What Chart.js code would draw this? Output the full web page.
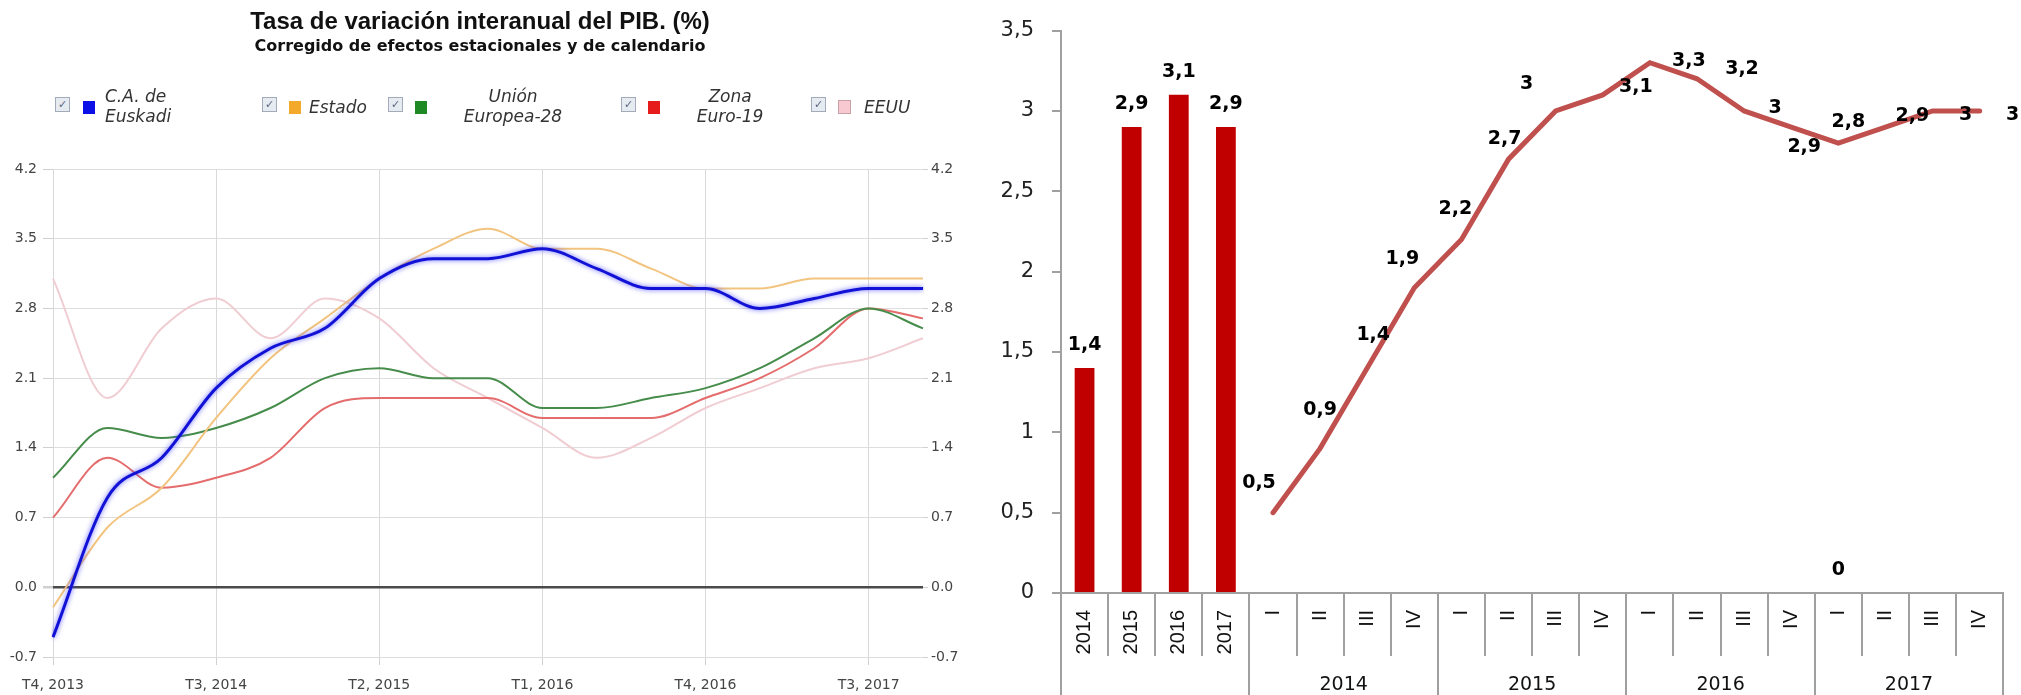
<!DOCTYPE html>
<html>
<head>
<meta charset="utf-8">
<script src="https://cdn.jsdelivr.net/npm/chart.js@4.4.1/dist/chart.umd.min.js"></script>
<style>
  body { margin: 0; background: #fff; width: 2021px; height: 695px; overflow: hidden; position: relative; }
  #izq { position: absolute; left: 0; top: 0; width: 960px; height: 695px; }
  #der { position: absolute; left: 960px; top: 0; width: 1061px; height: 695px; }
  .caja { position: absolute; width: 13px; height: 13px; border: 1px solid #a3abbb; background: #e6eaf1;
          font: 11px "DejaVu Sans"; color: #5b6680; text-align: center; line-height: 13px; }
  .cuadro { position: absolute; width: 12px; height: 13px; }
  .txt { position: absolute; font: italic 17px "DejaVu Sans"; color: #333; line-height: 20px; }
</style>
</head>
<body>
<div id="izq"><canvas id="grafIzq"></canvas></div>
<div id="der"><canvas id="grafDer"></canvas></div>

<!-- leyenda del grafico de la izquierda -->
<span class="caja" style="left:55px;top:97px">✓</span>
<span class="cuadro" style="left:83px;top:101px;background:#0a10e6"></span>
<span class="txt" style="left:105px;top:86px">C.A. de<br>Euskadi</span>

<span class="caja" style="left:262px;top:97px">✓</span>
<span class="cuadro" style="left:289px;top:101px;background:#f2a92c"></span>
<span class="txt" style="left:309px;top:97px">Estado</span>

<span class="caja" style="left:388px;top:97px">✓</span>
<span class="cuadro" style="left:415px;top:101px;background:#1f8a24"></span>
<span class="txt" style="left:456px;top:86px;width:114px;text-align:center">Unión<br>Europea-28</span>

<span class="caja" style="left:621px;top:97px">✓</span>
<span class="cuadro" style="left:648px;top:101px;background:#e61b1b"></span>
<span class="txt" style="left:680px;top:86px;width:100px;text-align:center">Zona<br>Euro-19</span>

<span class="caja" style="left:811px;top:97px">✓</span>
<span class="cuadro" style="left:838px;top:100px;background:#f9c9d1;border:1px solid #c9a0a6;width:11px;height:12px"></span>
<span class="txt" style="left:864px;top:97px">EEUU</span>

<script>
// --- datos grafico izquierda (tasa interanual, %)
const trimestres = ['T4, 2013', 'T1, 2014', 'T2, 2014', 'T3, 2014', 'T4, 2014', 'T1, 2015', 'T2, 2015',
  'T3, 2015', 'T4, 2015', 'T1, 2016', 'T2, 2016', 'T3, 2016', 'T4, 2016', 'T1, 2017', 'T2, 2017',
  'T3, 2017', 'T4, 2017'];
const euskadi = [-0.5, 0.9, 1.3, 2.0, 2.4, 2.6, 3.1, 3.3, 3.3, 3.4, 3.2, 3.0, 3.0, 2.8, 2.9, 3.0, 3.0];
const estado = [-0.2, 0.6, 1.0, 1.7, 2.3, 2.7, 3.1, 3.4, 3.6, 3.4, 3.4, 3.2, 3.0, 3.0, 3.1, 3.1, 3.1];
const ue28 = [1.1, 1.6, 1.5, 1.6, 1.8, 2.1, 2.2, 2.1, 2.1, 1.8, 1.8, 1.9, 2.0, 2.2, 2.5, 2.8, 2.6];
const euro19 = [0.7, 1.3, 1.0, 1.1, 1.3, 1.8, 1.9, 1.9, 1.9, 1.7, 1.7, 1.7, 1.9, 2.1, 2.4, 2.8, 2.7];
const eeuu = [3.1, 1.9, 2.6, 2.9, 2.5, 2.9, 2.7, 2.2, 1.9, 1.6, 1.3, 1.5, 1.8, 2.0, 2.2, 2.3, 2.5];

// --- datos grafico derecha
const categorias = ['2014', '2015', '2016', '2017',
  'I', 'II', 'III', 'IV', 'I', 'II', 'III', 'IV', 'I', 'II', 'III', 'IV', 'I', 'II', 'III', 'IV'];
const anuales = [1.4, 2.9, 3.1, 2.9, null, null, null, null, null, null, null, null,
  null, null, null, null, 0, null, null, null];
const trimestrales = [null, null, null, null, 0.5, 0.9, 1.4, 1.9, 2.2, 2.7, 3, 3.1,
  3.3, 3.2, 3, 2.9, 2.8, 2.9, 3, 3];
const anios = ['2014', '2015', '2016', '2017'];

const esCero = v => Math.abs(v) < 1e-6;

// halo azul de la serie de Euskadi
const brillo = {
  id: 'brillo',
  beforeDatasetDraw(chart, args) {
    if (args.index !== 0) return;
    chart.ctx.save();
    chart.ctx.shadowColor = 'rgba(70,70,255,0.85)';
    chart.ctx.shadowBlur = 5;
  },
  afterDatasetDraw(chart, args) {
    if (args.index === 0) chart.ctx.restore();
  }
};

const fuenteEje = { family: 'DejaVu Sans', size: 14 };

new Chart(document.getElementById('grafIzq'), {
  type: 'line',
  data: {
    labels: trimestres,
    datasets: [
      { label: 'C.A. de Euskadi', data: euskadi, borderColor: '#1212d6', borderWidth: 3 },
      { label: 'Estado', data: estado, borderColor: '#f2c47f', borderWidth: 2 },
      { label: 'Unión Europea-28', data: ue28, borderColor: '#468c4b', borderWidth: 2 },
      { label: 'Zona Euro-19', data: euro19, borderColor: '#e56c6c', borderWidth: 2 },
      { label: 'EEUU', data: eeuu, borderColor: '#f0cdd2', borderWidth: 2 }
    ]
  },
  options: {
    responsive: true,
    maintainAspectRatio: false,
    animation: false,
    elements: { point: { radius: 0 }, line: { cubicInterpolationMode: 'monotone' } },
    layout: { padding: 0 },
    plugins: {
      legend: { display: false },
      tooltip: { enabled: false },
      title: {
        display: true,
        text: 'Tasa de variación interanual del PIB. (%)',
        font: { family: 'Liberation Sans', size: 24, weight: 'bold' },
        color: '#111',
        padding: { top: 8, bottom: 0 }
      },
      subtitle: {
        display: true,
        text: 'Corregido de efectos estacionales y de calendario',
        font: { family: 'DejaVu Sans', size: 16, weight: 'bold' },
        color: '#111',
        padding: { top: 0, bottom: 113 }
      }
    },
    scales: {
      x: {
        border: { display: false },
        grid: {
          color: c => (c.index % 3 === 0 ? '#d9d9d9' : 'transparent'),
          tickColor: c => (c.index % 3 === 0 ? '#d0d0d0' : 'transparent'),
          tickLength: 8
        },
        ticks: {
          autoSkip: false, maxRotation: 0, padding: 12, color: '#444', font: fuenteEje,
          callback: (v, i) => (i % 3 === 0 ? trimestres[i] : '')
        },
        afterFit: s => { s.height = 38; }
      },
      y: {
        min: -0.7, max: 4.2,
        border: { display: false },
        grid: {
          color: c => (c.tick && esCero(c.tick.value) ? '#4a4a4a' : '#dedede'),
          lineWidth: c => (c.tick && esCero(c.tick.value) ? 2.5 : 1),
          tickColor: '#d0d0d0',
          tickLength: 10
        },
        ticks: { stepSize: 0.7, padding: 6, color: '#444', font: fuenteEje, callback: v => v.toFixed(1) },
        afterFit: s => { s.width = 53; }
      },
      y2: {
        position: 'right',
        min: -0.7, max: 4.2,
        border: { display: false },
        grid: { drawOnChartArea: false, tickColor: '#d0d0d0', tickLength: 5 },
        ticks: { stepSize: 0.7, padding: 3, color: '#444', font: fuenteEje, callback: v => v.toFixed(1) },
        afterFit: s => { s.width = 37; }
      }
    }
  },
  plugins: [brillo]
});

// etiquetas de valores con coma decimal
const etiquetas = {
  id: 'etiquetas',
  afterDatasetsDraw(chart, args, opts) {
    const ctx = chart.ctx;
    ctx.save();
    ctx.font = 'bold 19px "DejaVu Sans"';
    ctx.fillStyle = '#000';
    ctx.textAlign = 'center';
    ctx.textBaseline = 'middle';
    chart.data.datasets.forEach((ds, di) => {
      const meta = chart.getDatasetMeta(di);
      const desp = opts.desplazamientos[di];
      ds.data.forEach((v, i) => {
        if (v === null) return;
        const el = meta.data[i];
        const d = desp[i] || [0, -23];
        ctx.fillText(String(v).replace('.', ','), el.x + d[0], el.y + d[1]);
      });
    });
    ctx.restore();
  }
};

// cuadricula de la tabla bajo el eje x y rotulos de los anios
const tabla = {
  id: 'tabla',
  afterDraw(chart) {
    const ctx = chart.ctx;
    const x = chart.scales.x;
    const y0 = chart.scales.y.bottom;
    const n = categorias.length;
    const w = (x.right - x.left) / n;
    ctx.save();
    ctx.strokeStyle = '#a0a0a0';
    ctx.lineWidth = 2;
    for (let i = 0; i <= n; i++) {
      const xb = Math.round(x.left + i * w);
      const bajo = (i % 4 === 0) ? chart.height : y0 + 63;
      ctx.beginPath();
      ctx.moveTo(xb, y0);
      ctx.lineTo(xb, bajo);
      ctx.stroke();
    }
    ctx.font = '19px "DejaVu Sans"';
    ctx.fillStyle = '#111';
    ctx.textAlign = 'center';
    ctx.textBaseline = 'middle';
    anios.forEach((a, g) => {
      const xc = x.left + (4 + g * 4 + 2) * w;
      ctx.fillText(a, xc, y0 + 92);
    });
    ctx.restore();
  }
};

const despLinea = [];
despLinea[4] = [-14, -30]; despLinea[5] = [0, -38]; despLinea[6] = [6, -33]; despLinea[7] = [-12, -29];
despLinea[8] = [-6, -30]; despLinea[9] = [-4, -20]; despLinea[10] = [-29, -27]; despLinea[11] = [33, -8];
despLinea[12] = [39, -2]; despLinea[13] = [45, -10]; despLinea[14] = [31, -3]; despLinea[15] = [13, 20];
despLinea[16] = [10, -21]; despLinea[17] = [27, -11]; despLinea[18] = [33, 4]; despLinea[19] = [33, 4];

new Chart(document.getElementById('grafDer'), {
  type: 'bar',
  data: {
    labels: categorias,
    datasets: [
      { type: 'line', label: 'Trimestral', data: trimestrales, borderColor: '#c0504d', borderWidth: 5,
        pointRadius: 0, tension: 0, spanGaps: false, borderCapStyle: 'round' },
      { type: 'bar', label: 'Anual', data: anuales, backgroundColor: '#c00000',
        categoryPercentage: 1, barPercentage: 0.42 }
    ]
  },
  options: {
    responsive: true,
    maintainAspectRatio: false,
    animation: false,
    layout: { padding: { top: 28, right: 13, left: 0, bottom: 0 } },
    plugins: {
      legend: { display: false },
      tooltip: { enabled: false },
      etiquetas: { desplazamientos: [despLinea, []] }
    },
    scales: {
      x: {
        border: { color: '#a0a0a0', width: 2 },
        grid: { display: false, drawTicks: false },
        ticks: {
          autoSkip: false, minRotation: 90, maxRotation: 90, padding: 17,
          color: '#111', font: { family: 'Liberation Sans', size: 20 }
        },
        afterFit: s => { s.height = 102; }
      },
      y: {
        min: 0, max: 3.5,
        border: { color: '#a0a0a0', width: 2 },
        grid: { drawOnChartArea: false, tickColor: '#a0a0a0', tickLength: 9, lineWidth: 2 },
        ticks: {
          stepSize: 0.5, padding: 18, color: '#222', font: { family: 'DejaVu Sans', size: 21 },
          callback: v => String(v).replace('.', ',')
        },
        afterFit: s => { s.width = 101; }
      }
    }
  },
  plugins: [etiquetas, tabla]
});
</script>
</body>
</html>
